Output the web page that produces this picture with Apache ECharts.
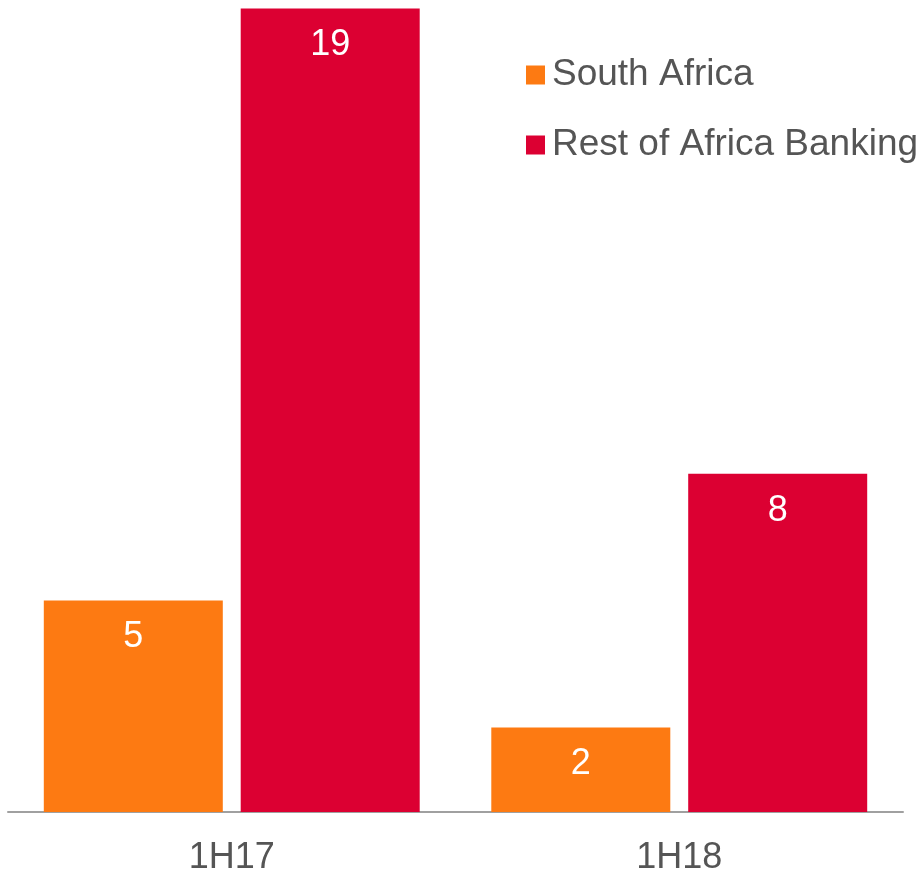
<!DOCTYPE html>
<html>
<head>
<meta charset="utf-8">
<script src="https://cdn.jsdelivr.net/npm/echarts@6/dist/echarts.min.js"></script>
<style>
  html, body { margin: 0; padding: 0; background: #fff; }
  #chart { width: 924px; height: 872px; }
</style>
</head>
<body>
<div id="chart"></div>
<script>
// Half-year periods on the x axis
const periods = ['1H17', '1H18'];
// Values per segment
const southAfrica = [5, 2];
const restOfAfricaBanking = [19, 8];
const seriesNames = ['South Africa', 'Rest of Africa Banking'];

const FONT = '"Liberation Sans", Arial, sans-serif';
const TEXT_GREY = '#555555';

const chart = echarts.init(document.getElementById('chart'), null, { renderer: 'canvas' });

function barSeries(name, data, color) {
  return {
    name: name,
    type: 'bar',
    data: data,
    barGap: '10%',
    barCategoryGap: '16%',
    itemStyle: { color: color },
    label: {
      show: true,
      position: 'insideTop',
      distance: 19,
      color: '#ffffff',
      fontFamily: FONT,
      fontSize: 36
    }
  };
}

chart.setOption({
  animation: false,
  backgroundColor: '#ffffff',
  grid: { left: 8, right: 21, top: 0, bottom: 60, containLabel: false, outerBoundsMode: 'none' },
  legend: {
    orient: 'vertical',
    left: 521,
    top: 50,
    itemWidth: 19,
    itemHeight: 19,
    itemGap: 30,
    icon: 'rect',
    textStyle: { color: TEXT_GREY, fontFamily: FONT, fontSize: 37, lineHeight: 40, padding: [0, 0, 0, 2] },
    data: seriesNames
  },
  xAxis: {
    type: 'category',
    data: periods,
    axisLine: { show: true, lineStyle: { color: '#a0a0a0', width: 2 } },
    axisTick: { show: false },
    axisLabel: { color: TEXT_GREY, fontFamily: FONT, fontSize: 36, margin: 28 }
  },
  yAxis: {
    type: 'value',
    min: 0,
    max: 19.2,
    show: false,
    splitLine: { show: false }
  },
  series: [
    barSeries(seriesNames[0], southAfrica, '#FD7A12'),
    barSeries(seriesNames[1], restOfAfricaBanking, '#DC0032')
  ]
});
</script>
</body>
</html>
